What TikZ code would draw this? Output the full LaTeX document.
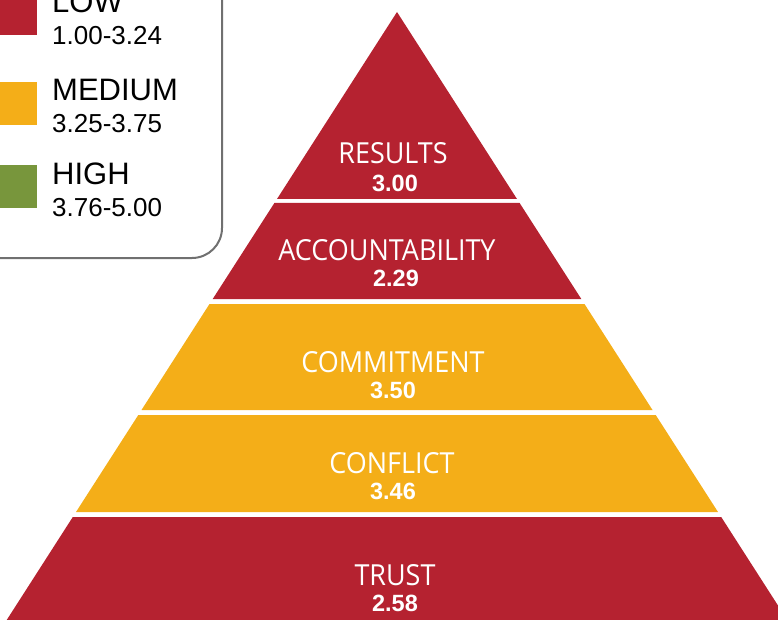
\documentclass[tikz,border=0pt]{standalone}
\usepackage{fontspec}
\usepackage{graphicx}
\setmainfont{Liberation Sans}
\newfontfamily\labelfont{Open Sans}
\newcommand{\pyrlabel}[1]{\scalebox{0.93}[1]{#1}}
\definecolor{lowred}{RGB}{181,34,48}
\definecolor{medorange}{RGB}{244,174,24}
\definecolor{highgreen}{RGB}{120,150,60}
\definecolor{boxgray}{RGB}{112,112,112}
\tikzset{
  lvl/.style={text=white, font=\labelfont\fontsize{29}{29}\selectfont, anchor=base, inner sep=0pt},
  val/.style={text=white, font=\bfseries\fontsize{23.5}{23.5}\selectfont, anchor=base, inner sep=0pt},
  legtitle/.style={font=\fontsize{31}{31}\selectfont, anchor=base west, inner sep=0pt},
  legrange/.style={font=\fontsize{26}{26}\selectfont, anchor=base west, inner sep=0pt},
}
\begin{document}
\begin{tikzpicture}[x=1pt,y=-1pt]
\clip (0,0) rectangle (778,620);
\useasboundingbox (0,0) rectangle (778,620);
% legend box
\draw[boxgray, line width=2pt, rounded corners=30pt] (-30,-30) rectangle (222,258);
\fill[lowred] (-10,-8) rectangle (37,35);
\fill[medorange] (-10,82) rectangle (37,125);
\fill[highgreen] (-10,165) rectangle (37,208);
\node[legtitle] (lowt) at (52,13) {LOW};
\node[legrange] (lowr) at (52,45) {1.00-3.24};
\node[legtitle] (medt) at (52,101) {MEDIUM};
\node[legrange] (medr) at (52,133) {3.25-3.75};
\node[legtitle] (hight) at (52,185) {HIGH};
\node[legrange] (highr) at (52,217) {3.76-5.00};
% pyramid
\fill[lowred] (397,12) -- (517,199) -- (277,199) -- cycle;
\fill[lowred] (274.4,203) -- (519.6,203) -- (581.3,299) -- (212.7,299) -- cycle;
\fill[medorange] (209.5,304) -- (584.5,304) -- (652.5,410) -- (141.5,410) -- cycle;
\fill[medorange] (138.3,415) -- (655.7,415) -- (718,512) -- (76,512) -- cycle;
\fill[lowred] (72.8,517) -- (721.2,517) -- (790.5,625) -- (3.5,625) -- cycle;
\node[lvl] (res) at (393,164) {\pyrlabel{RESULTS}};
\node[val] (resv) at (395,192) {3.00};
\node[lvl] (acc) at (387,260) {\pyrlabel{ACCOUNTABILITY}};
\node[val] (accv) at (396,286) {2.29};
\node[lvl] (com) at (393,372) {\pyrlabel{COMMITMENT}};
\node[val] (comv) at (393,398) {3.50};
\node[lvl] (con) at (392,473) {\pyrlabel{CONFLICT}};
\node[val] (conv) at (393,499) {3.46};
\node[lvl] (tru) at (395,585) {\pyrlabel{TRUST}};
\node[val] (truv) at (395,611) {2.58};
\end{tikzpicture}
\end{document}
